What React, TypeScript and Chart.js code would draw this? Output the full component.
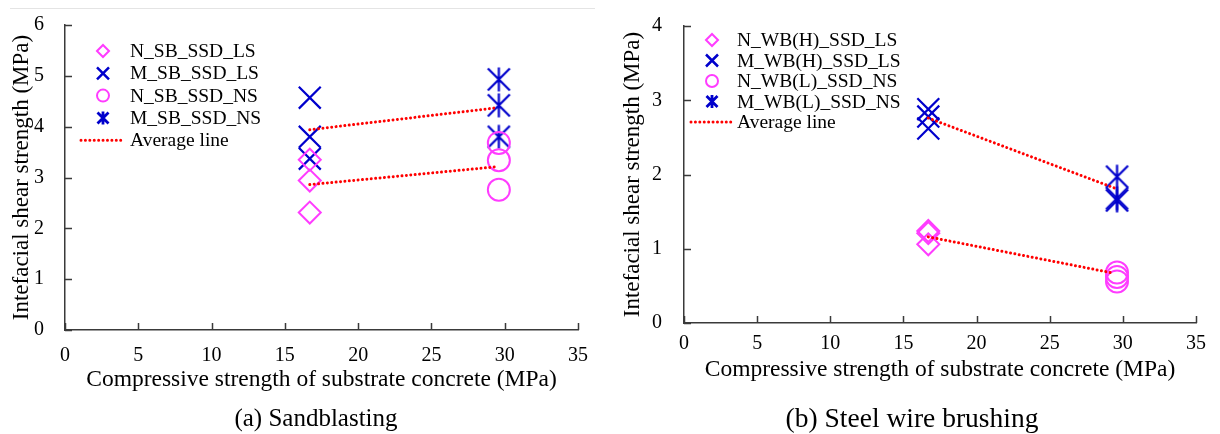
import React, { useEffect, useRef } from 'react';
import { Chart, registerables } from 'chart.js';

Chart.register(...registerables);

// ---------- data ----------
const strengthLow = 16.7; // MPa, substrate concrete N
const strengthHigh = 29.6; // MPa, substrate concrete M
const avgLineStart = 16.7;
const avgLineEnd = 29.4;

// (a) Sandblasting
const sbLabels = ['N_SB_SSD_LS', 'M_SB_SSD_LS', 'N_SB_SSD_NS', 'M_SB_SSD_NS', 'Average line'];
const nSbSsdLs = [3.35, 2.94, 2.31];
const mSbSsdLs = [4.57, 3.8, 3.37];
const nSbSsdNs = [3.68, 3.34, 2.76];
const mSbSsdNs = [4.93, 4.42, 3.8];
const sbAvgUpper = [3.94, 4.37];
const sbAvgLower = [2.86, 3.21];

// (b) Steel wire brushing
const wbLabels = ['N_WB(H)_SSD_LS', 'M_WB(H)_SSD_LS', 'N_WB(L)_SSD_NS', 'M_WB(L)_SSD_NS', 'Average line'];
const nWbHSsdLs = [1.24, 1.21, 1.06];
const mWbHSsdLs = [2.88, 2.78, 2.62];
const nWbLSsdNs = [0.68, 0.62, 0.56];
const mWbLSsdNs = [1.97, 1.68, 1.65];
const wbAvgUpper = [2.76, 1.82];
const wbAvgLower = [1.16, 0.67];

const xTickStep = 5;
const xMax = 35;

// ---------- styles ----------
const MAGENTA = '#FF3CFF';
const BLUE = '#0000CC';
const RED = '#FF0000';
const AXIS = '#3a3a3a';
const FONT = "'Liberation Serif', 'Times New Roman', serif";

function makeAsterisk(half: number, color: string, lw: number) {
  const s = Math.ceil(half * 2 + lw * 2 + 2);
  const c = document.createElement('canvas');
  c.width = s;
  c.height = s;
  const g = c.getContext('2d')!;
  g.strokeStyle = color;
  g.lineWidth = lw;
  const m = s / 2;
  g.beginPath();
  g.moveTo(m - half, m - half);
  g.lineTo(m + half, m + half);
  g.moveTo(m + half, m - half);
  g.lineTo(m - half, m + half);
  g.moveTo(m, m - half - 1);
  g.lineTo(m, m + half + 1);
  g.stroke();
  return c;
}

const pts = (x: number, ys: number[]) => ys.map((y) => ({ x, y }));

const innerTicks = {
  id: 'innerTicks',
  afterDraw(chart: any) {
    const { ctx, chartArea: a } = chart;
    const x = chart.scales.x;
    const y = chart.scales.y;
    ctx.save();
    ctx.strokeStyle = AXIS;
    ctx.lineWidth = 1.5;
    ctx.beginPath();
    x.ticks.forEach((t: any) => {
      const px = Math.round(x.getPixelForValue(t.value)) + 0.5;
      ctx.moveTo(px, a.bottom);
      ctx.lineTo(px, a.bottom - 7);
    });
    y.ticks.forEach((t: any) => {
      const py = Math.round(y.getPixelForValue(t.value)) + 0.5;
      ctx.moveTo(a.left, py);
      ctx.lineTo(a.left + 7, py);
    });
    ctx.stroke();
    ctx.restore();
  },
};

const whiteBg = {
  id: 'whiteBg',
  beforeDraw(chart: any) {
    const { ctx, width, height } = chart;
    ctx.save();
    ctx.fillStyle = '#fff';
    ctx.fillRect(0, 0, width, height);
    ctx.restore();
  },
};

const customLegend = {
  id: 'customLegend',
  afterDraw(chart: any, _args: any, opts: any) {
    const { ctx } = chart;
    const { labels, y0, gap, markerX, textX, lineX0, lineX1, fontSize } = opts;
    const kinds = ['diamond', 'cross', 'circle', 'asterisk', 'line'];
    const colors = [MAGENTA, BLUE, MAGENTA, BLUE, RED];
    ctx.save();
    labels.forEach((label: string, i: number) => {
      const yy = y0 + i * gap;
      const kind = kinds[i];
      ctx.strokeStyle = colors[i];
      ctx.lineWidth = 2;
      ctx.beginPath();
      if (kind === 'diamond') {
        const r = 6;
        ctx.moveTo(markerX - r, yy);
        ctx.lineTo(markerX, yy - r);
        ctx.lineTo(markerX + r, yy);
        ctx.lineTo(markerX, yy + r);
        ctx.closePath();
        ctx.stroke();
      } else if (kind === 'cross') {
        const h = 6;
        ctx.lineWidth = 2.5;
        ctx.moveTo(markerX - h, yy - h);
        ctx.lineTo(markerX + h, yy + h);
        ctx.moveTo(markerX + h, yy - h);
        ctx.lineTo(markerX - h, yy + h);
        ctx.stroke();
      } else if (kind === 'circle') {
        ctx.arc(markerX, yy, 6, 0, Math.PI * 2);
        ctx.stroke();
      } else if (kind === 'asterisk') {
        const h = 5.5;
        ctx.lineWidth = 2.8;
        ctx.moveTo(markerX - h, yy - h);
        ctx.lineTo(markerX + h, yy + h);
        ctx.moveTo(markerX + h, yy - h);
        ctx.lineTo(markerX - h, yy + h);
        ctx.moveTo(markerX, yy - h - 1);
        ctx.lineTo(markerX, yy + h + 1);
        ctx.stroke();
      } else {
        ctx.lineWidth = 3;
        ctx.lineCap = 'round';
        ctx.setLineDash([0.01, 4.4]);
        ctx.moveTo(lineX0, yy);
        ctx.lineTo(lineX1, yy);
        ctx.stroke();
        ctx.setLineDash([]);
        ctx.lineCap = 'butt';
      }
      ctx.fillStyle = '#000';
      ctx.font = `${fontSize}px ${FONT}`;
      ctx.textBaseline = 'middle';
      ctx.textAlign = 'left';
      ctx.fillText(label, textX, yy + 1);
    });
    ctx.restore();
  },
};

interface PanelSpec {
  labels: string[];
  nLs: number[];
  mLs: number[];
  nNs: number[];
  mNs: number[];
  avgUpper: number[];
  avgLower: number[];
  yMax: number;
  pad: { left: number; top: number; right: number; bottom: number };
  yWidth: number;
  yTitlePad: number;
  yTickPad: number;
  xHeight: number;
  xTickPad: number;
  xTitlePad: number;
  legend: { y0: number; gap: number; markerX: number; textX: number; lineX0: number; lineX1: number };
}

function buildConfig(s: PanelSpec): any {
  const markerR = 11;
  const avgDs = (vals: number[]) => ({
    type: 'line',
    data: [
      { x: avgLineStart, y: vals[0] },
      { x: avgLineEnd, y: vals[1] },
    ],
    borderColor: RED,
    borderWidth: 3,
    borderDash: [0.01, 4.4],
    borderCapStyle: 'round',
    pointRadius: 0,
    showLine: true,
    fill: false,
  });
  return {
    type: 'scatter',
    data: {
      datasets: [
        avgDs(s.avgUpper),
        avgDs(s.avgLower),
        {
          label: s.labels[0],
          data: pts(strengthLow, s.nLs),
          pointStyle: 'rectRot',
          pointRadius: markerR,
          borderColor: MAGENTA,
          backgroundColor: 'rgba(0,0,0,0)',
          borderWidth: 2,
        },
        {
          label: s.labels[1],
          data: pts(strengthLow, s.mLs),
          pointStyle: 'crossRot',
          pointRadius: 15.5,
          borderColor: BLUE,
          backgroundColor: 'rgba(0,0,0,0)',
          borderWidth: 2.2,
        },
        {
          label: s.labels[2],
          data: pts(strengthHigh, s.nNs),
          pointStyle: 'circle',
          pointRadius: markerR,
          borderColor: MAGENTA,
          backgroundColor: 'rgba(0,0,0,0)',
          borderWidth: 2,
        },
        {
          label: s.labels[3],
          data: pts(strengthHigh, s.mNs),
          pointStyle: makeAsterisk(11, BLUE, 2.2),
          pointRadius: 11,
          borderColor: BLUE,
          backgroundColor: BLUE,
        },
      ],
    },
    options: {
      responsive: false,
      animation: false,
      events: [],
      layout: { padding: s.pad },
      plugins: {
        legend: { display: false },
        tooltip: { enabled: false },
        customLegend: { labels: s.labels, fontSize: 19.5, ...s.legend },
      },
      scales: {
        x: {
          type: 'linear',
          min: 0,
          max: xMax,
          afterFit: (sc: any) => {
            sc.height = s.xHeight;
          },
          ticks: {
            stepSize: xTickStep,
            color: '#000',
            padding: s.xTickPad,
            font: { family: FONT, size: 20 },
          },
          grid: { display: false },
          border: { display: true, color: AXIS, width: 1.5 },
          title: {
            display: true,
            text: 'Compressive strength of substrate concrete (MPa)',
            color: '#000',
            font: { family: FONT, size: 23.5 },
            padding: { top: 0, bottom: s.xTitlePad },
          },
        },
        y: {
          type: 'linear',
          min: 0,
          max: s.yMax,
          afterFit: (sc: any) => {
            sc.width = s.yWidth;
          },
          ticks: {
            stepSize: 1,
            color: '#000',
            padding: s.yTickPad,
            font: { family: FONT, size: 20 },
          },
          grid: { display: false },
          border: { display: true, color: AXIS, width: 1.5 },
          title: {
            display: true,
            text: 'Intefacial shear strength (MPa)',
            color: '#000',
            font: { family: FONT, size: 23 },
            padding: { top: s.yTitlePad, bottom: 0 },
          },
        },
      },
    },
    plugins: [whiteBg, innerTicks, customLegend],
  };
}

const leftSpec: PanelSpec = {
  labels: sbLabels,
  nLs: nSbSsdLs,
  mLs: mSbSsdLs,
  nNs: nSbSsdNs,
  mNs: mSbSsdNs,
  avgUpper: sbAvgUpper,
  avgLower: sbAvgLower,
  yMax: 6,
  pad: { left: 0, top: 20, right: 32, bottom: 34 },
  yWidth: 65,
  yTitlePad: 8,
  yTickPad: 13,
  xHeight: 70,
  xTickPad: 6,
  xTitlePad: 6,
  legend: { y0: 51, gap: 22.3, markerX: 103, textX: 130, lineX0: 81, lineX1: 125 },
};

const rightSpec: PanelSpec = {
  labels: wbLabels,
  nLs: nWbHSsdLs,
  mLs: mWbHSsdLs,
  nNs: nWbLSsdNs,
  mNs: mWbLSsdNs,
  avgUpper: wbAvgUpper,
  avgLower: wbAvgLower,
  yMax: 4,
  pad: { left: 0, top: 19, right: 24, bottom: 42 },
  yWidth: 74,
  yTitlePad: 9,
  yTickPad: 14,
  xHeight: 69,
  xTickPad: 1,
  xTitlePad: 8,
  legend: { y0: 40, gap: 20.5, markerX: 102, textX: 127, lineX0: 81, lineX1: 123 },
};

function Panel({ spec, left }: { spec: PanelSpec; left: number }) {
  const ref = useRef<HTMLCanvasElement>(null);
  useEffect(() => {
    const chart = new Chart(ref.current!, buildConfig(spec));
    return () => chart.destroy();
  }, []);
  return (
    <canvas
      ref={ref}
      width={610}
      height={434}
      style={{ position: 'absolute', left, top: 0, width: 610, height: 434 }}
    />
  );
}

const captionStyle = (center: number, size: number): React.CSSProperties => ({
  position: 'absolute',
  left: center - 300,
  width: 600,
  top: 403,
  lineHeight: '30px',
  textAlign: 'center',
  fontFamily: FONT,
  fontSize: size,
  color: '#000',
});

export default function App() {
  return (
    <div
      style={{
        position: 'absolute',
        left: 0,
        top: 0,
        width: 1220,
        height: 434,
        background: '#fff',
        overflow: 'hidden',
      }}
    >
      <Panel spec={leftSpec} left={0} />
      <Panel spec={rightSpec} left={610} />
      <div style={{ position: 'absolute', left: 10, top: 8, width: 585, height: 1, background: '#e4e4e4' }} />
      <div style={captionStyle(316, 25)}>(a) Sandblasting</div>
      <div style={captionStyle(912, 27.5)}>(b) Steel wire brushing</div>
    </div>
  );
}
